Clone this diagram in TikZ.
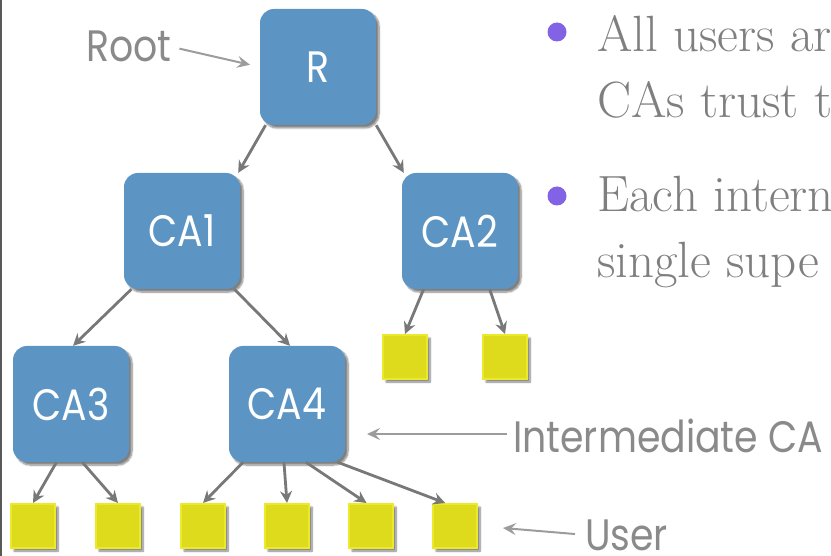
\documentclass[tikz,border=0pt]{standalone}
\usepackage{fontspec}
\usepackage{graphicx}
\newfontfamily\labelfont{Poppins}
\newcommand\narrowtxt[1]{\scalebox{0.86}[1]{#1}}
\usetikzlibrary{arrows.meta,shadows.blur}
\definecolor{boxblue}{HTML}{5C95C4}
\definecolor{useryellow}{HTML}{DEDA1C}
\definecolor{useredge}{HTML}{ECE92A}
\definecolor{arrowgray}{HTML}{787878}
\definecolor{labelgray}{HTML}{8A8A8A}
\definecolor{textgray}{HTML}{7F7F7F}
\definecolor{dotpurple}{HTML}{8263E6}

\begin{document}
\begin{tikzpicture}[x=1pt,y=-1pt,
    ca/.style={fill=boxblue, rounded corners=14pt, minimum size=116pt, inner sep=0pt, text=white,
               font=\labelfont\fontsize{44}{44}\selectfont,
               blur shadow={shadow xshift=3pt, shadow yshift=-3pt, shadow blur steps=8, shadow opacity=50}},
    user/.style={fill=useryellow, draw=useredge, line width=2pt, minimum size=44pt, inner sep=0pt,
               blur shadow={shadow xshift=3pt, shadow yshift=-3pt, shadow blur steps=8, shadow opacity=50}},
    link/.style={draw=arrowgray, line width=2.8pt, -{Stealth[length=12pt,width=12pt,inset=4pt]}},
    callout/.style={draw=labelgray!85, line width=2pt, -{Stealth[length=13pt,width=12pt,inset=5pt]}},
    lbl/.style={text=labelgray, font=\labelfont\fontsize{44}{44}\selectfont, inner sep=0pt},
    bullet/.style={text=textgray, font=\fontsize{51}{66}\selectfont, anchor=base west, inner sep=0pt}]
  \useasboundingbox (0,0) rectangle (831,556);
  \draw[line width=2pt, color=black!65] (1,0) -- (1,556);

  % CA boxes
  \node[ca] (R) at (318,67) {\narrowtxt{R}};
  \node[ca] (CA1) at (182,231) {\narrowtxt{CA1}};
  \node[ca] (CA2) at (460,231) {\narrowtxt{CA2}};
  \node[ca] (CA3) at (71,404) {\narrowtxt{CA3}};
  \node[ca] (CA4) at (287,404) {\narrowtxt{CA4}};

  % users
  \node[user] (u1) at (33,526) {};
  \node[user] (u2) at (118,526) {};
  \node[user] (u3) at (203,526) {};
  \node[user] (u4) at (287,526) {};
  \node[user] (u5) at (371,526) {};
  \node[user] (u6) at (455,526) {};
  \node[user] (u7) at (405,357) {};
  \node[user] (u8) at (505,357) {};

  \draw[link] (R.228) -- (CA1.46);
  \draw[link] (R.315) -- (CA2.134);
  \draw[link] (CA1.229) -- (CA3.88);
  \draw[link] (CA1.312) -- (CA4.87);
  \draw[link] (CA3.256) -- (u1.north);
  \draw[link] (CA3.281) -- (u2.north);
  \draw[link] (CA4.233) -- (u3.north);
  \draw[link] (CA4.267) -- (u4.north);
  \draw[link] (CA4.288) -- (u5.101);
  \draw[link] (CA4.311) -- (u6.113);
  \draw[link] (CA2.238) -- (u7.north);
  \draw[link] (CA2.297) -- (u8.north);

  % labels
  \node[lbl, anchor=base west] (root) at (86,62) {\narrowtxt{Root}};
  \node[lbl, anchor=base west] (inter) at (513,453) {\narrowtxt{Intermediate CA}};
  \node[lbl, anchor=base west] (usr) at (585,550) {\narrowtxt{User}};
  \coordinate (interTip) at (367,434);
  \coordinate (usrTip) at (503,528);
  \draw[callout, shorten <=8pt, shorten >=10pt] (root.east) -- (R.west);
  \draw[callout, shorten <=6pt] (inter.west |- interTip) -- (interTip);
  \draw[callout, shorten <=10pt] (usr.west) -- (usrTip);

  % bullet text
  \fill[dotpurple] (557,32) circle (9.5pt);
  \fill[dotpurple] (557,196) circle (9.5pt);
  \node[bullet] (b1) at (597,52) {All users ar};
  \node[bullet] (b2) at (597,118) {CAs trust t};
  \node[bullet] (b3) at (597,212) {Each intern};
  \node[bullet] (b4) at (597,278) {single supe};
\end{tikzpicture}
\end{document}
